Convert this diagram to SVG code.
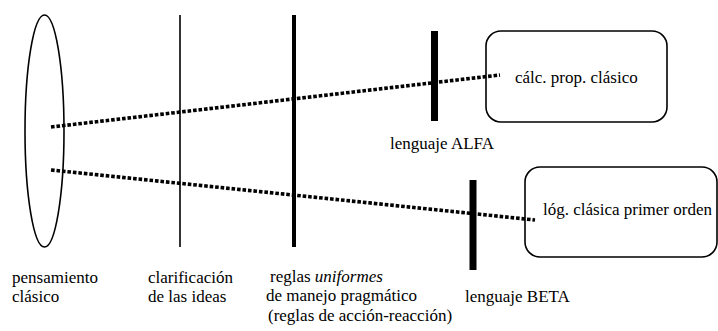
<svg xmlns="http://www.w3.org/2000/svg" width="718" height="331" viewBox="0 0 718 331">
<style>
text{font-family:'Liberation Serif','DejaVu Serif',serif;font-size:17px;fill:#000}
.thin{stroke:#000;fill:none;stroke-width:1.6}
.dot{stroke:#000;fill:none;stroke-width:3.6;stroke-dasharray:3.6 1.9}
</style>
<rect width="718" height="331" fill="#fff"/>
<g id="pensamiento">
<ellipse class="thin" cx="44.5" cy="131" rx="19.5" ry="116"/>
<text x="12" y="283">pensamiento</text>
<text x="12" y="302">clásico</text>
</g>
<g id="clarificacion">
<line x1="180" y1="15" x2="180" y2="247" stroke="#000" stroke-width="1.6"/>
<text x="148" y="283">clarificación</text>
<text x="148" y="302">de las ideas</text>
</g>
<g id="reglas">
<line x1="294" y1="15" x2="294" y2="247" stroke="#000" stroke-width="4"/>
<text x="270" y="282">reglas <tspan font-style="italic">uniformes</tspan></text>
<text x="266" y="301">de manejo pragmático</text>
<text x="268" y="321">(reglas de acción-reacción)</text>
</g>
<g id="alfa">
<line x1="434.5" y1="31" x2="434.5" y2="121" stroke="#000" stroke-width="7"/>
<text x="390" y="149">lenguaje ALFA</text>
</g>
<g id="beta">
<line x1="473" y1="180" x2="473" y2="270" stroke="#000" stroke-width="7"/>
<text x="465" y="302">lenguaje BETA</text>
</g>
<g id="calc">
<rect class="thin" x="486" y="31" width="181" height="91" rx="15"/>
<text x="515" y="83">cálc. prop. clásico</text>
</g>
<g id="log">
<rect class="thin" x="525" y="167" width="192" height="90" rx="15"/>
<text x="543" y="215">lóg. clásica primer orden</text>
</g>
<g id="connectors">
<line class="dot" x1="51" y1="127" x2="500" y2="75"/>
<line class="dot" x1="51" y1="170" x2="535" y2="220"/>
</g>
</svg>
